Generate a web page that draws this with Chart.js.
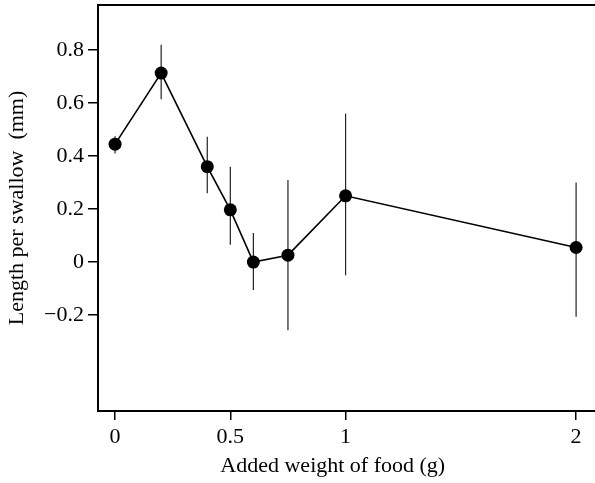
<!DOCTYPE html>
<html>
<head>
<meta charset="utf-8">
<script src="https://cdn.jsdelivr.net/npm/chart.js@4"></script>
<style>
  html, body { margin: 0; padding: 0; background: #fff; }
  #wrap { width: 595px; height: 483px; }
</style>
</head>
<body>
<div id="wrap"><canvas id="chart" width="595" height="483"></canvas></div>
<script>
// food weight added (g) and mean length per swallow (mm), with error bar ends
const foodWeight = [0, 0.2, 0.4, 0.5, 0.6, 0.75, 1, 2];
const lengthMean = [0.445, 0.713, 0.36, 0.197, 0.0, 0.026, 0.25, 0.055];
const errHigh    = [0.475, 0.82, 0.473, 0.36, 0.11, 0.31, 0.56, 0.30];
const errLow     = [0.41, 0.614, 0.26, 0.065, -0.105, -0.257, -0.05, -0.206];

const xTicks = [0, 0.5, 1, 2];
const xTickLabels = ['0', '0.5', '1', '2'];
const yTicks = [-0.2, 0, 0.2, 0.4, 0.6, 0.8];
const yTickLabels = ['\u22120.2', '0', '0.2', '0.4', '0.6', '0.8'];

const FONT = { family: '"Liberation Serif", "Times New Roman", serif', size: 22 };

/* ─── error bars + top frame line ─── */
const errorBars = {
    id: 'errorBars',
    beforeDatasetsDraw(chart) {
        const ctx = chart.ctx;
        const xs = chart.scales.x, ys = chart.scales.y;
        ctx.save();
        ctx.strokeStyle = '#222';
        ctx.lineWidth = 1.2;
        foodWeight.forEach(function(w, i) {
            const px = xs.getPixelForValue(w);
            ctx.beginPath();
            ctx.moveTo(px, ys.getPixelForValue(errHigh[i]));
            ctx.lineTo(px, ys.getPixelForValue(errLow[i]));
            ctx.stroke();
        });
        ctx.restore();
    },
    afterDraw(chart) {
        const ctx = chart.ctx;
        const a = chart.chartArea;
        ctx.save();
        ctx.strokeStyle = '#000';
        ctx.lineWidth = 2;
        ctx.beginPath();
        ctx.moveTo(a.left - 1, a.top);
        ctx.lineTo(a.right, a.top);
        ctx.stroke();
        ctx.restore();
    }
};

const chart = new Chart(document.getElementById('chart'), {
    type: 'line',
    data: {
        datasets: [{
            data: foodWeight.map(function(w, i) { return { x: w, y: lengthMean[i] }; }),
            borderColor: '#000',
            borderWidth: 1.6,
            backgroundColor: '#000',
            pointRadius: 6.5,
            pointBackgroundColor: '#000',
            pointBorderWidth: 0,
            tension: 0,
            fill: false
        }]
    },
    options: {
        responsive: false,
        animation: false,
        layout: { autoPadding: false, padding: { top: 5, right: 0, left: 0, bottom: 0 } },
        plugins: { legend: { display: false }, tooltip: { enabled: false } },
        scales: {
            x: {
                type: 'linear',
                min: -0.074,
                max: 2.082,
                afterBuildTicks: function(s) { s.ticks = xTicks.map(function(v) { return { value: v }; }); },
                afterFit: function(s) { s.height = 72; s.paddingLeft = 0; s.paddingRight = 0; },
                grid: { display: true, drawOnChartArea: false, drawTicks: true, tickLength: 9, color: '#000', lineWidth: 1.5 },
                border: { display: true, color: '#000', width: 2 },
                ticks: {
                    color: '#000', font: FONT, padding: 4, maxRotation: 0,
                    callback: function(v) { return xTickLabels[xTicks.indexOf(v)]; }
                },
                title: { display: true, text: 'Added weight of food (g)\u00a0\u00a0\u00a0\u00a0\u00a0', color: '#000', font: FONT, padding: { top: 4 } }
            },
            y: {
                min: -0.562,
                max: 0.97,
                afterBuildTicks: function(s) { s.ticks = yTicks.map(function(v) { return { value: v }; }); },
                afterFit: function(s) { s.width = 98; s.paddingTop = 0; s.paddingBottom = 0; },
                grid: { display: true, drawOnChartArea: false, drawTicks: true, tickLength: 10, color: '#000', lineWidth: 1.5 },
                border: { display: true, color: '#000', width: 2 },
                ticks: {
                    color: '#000', font: FONT, padding: 4,
                    callback: function(v) { return yTickLabels[yTicks.indexOf(v)]; }
                },
                title: { display: true, text: 'Length per swallow  (mm)', color: '#000', font: FONT, padding: { bottom: 2 } }
            }
        }
    },
    plugins: [errorBars]
});
</script>
</body>
</html>
